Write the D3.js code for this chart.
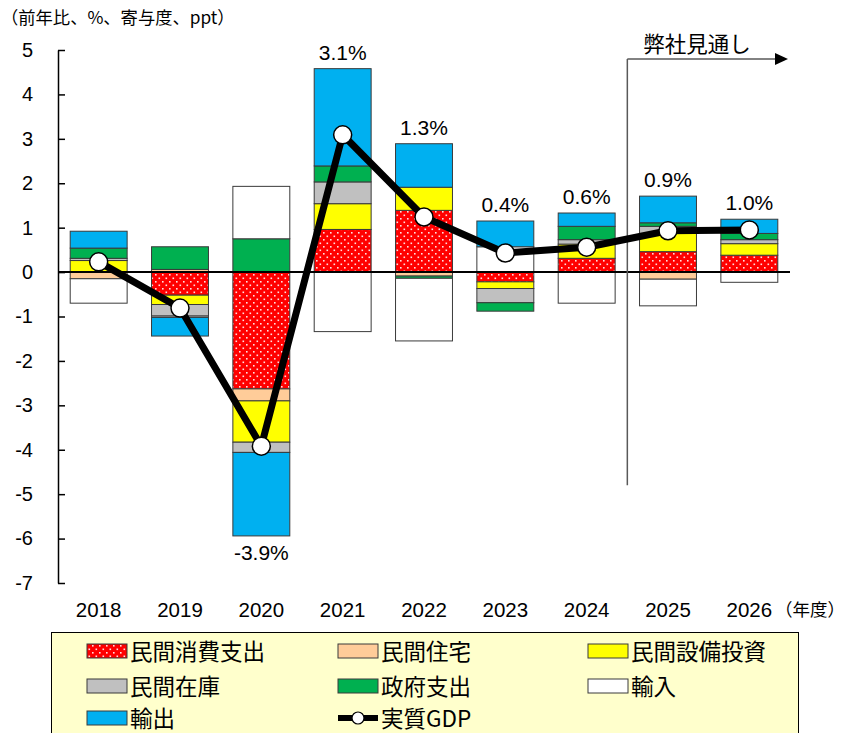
<!DOCTYPE html>
<html>
<head>
<meta charset="utf-8">
<script src="https://cdn.jsdelivr.net/npm/d3@7"></script>
<style>
  html, body { margin: 0; padding: 0; background: #fff; }
  svg { display: block; }
</style>
</head>
<body>
<svg id="chart" width="847" height="733"></svg>
<script>
// ---- data ----
const years = ["2018", "2019", "2020", "2021", "2022", "2023", "2024", "2025", "2026"];
const seriesKeys = ["consumption", "housing", "capex", "inventory", "government", "imports", "exports"];
const seriesNames = ["民間消費支出", "民間住宅", "民間設備投資", "民間在庫", "政府支出", "輸入", "輸出"];
const consumption = [0.00, -0.52, -2.63, 0.96, 1.39, -0.22, 0.31, 0.46, 0.38];
const housing     = [-0.15, 0.06, -0.27, 0.00, -0.09, 0.00, 0.00, -0.16, 0.00];
const capex       = [0.26, -0.21, -0.93, 0.58, 0.52, -0.15, 0.32, 0.41, 0.26];
const inventory   = [0.05, -0.26, -0.23, 0.49, 0.00, -0.32, 0.10, 0.16, 0.09];
const government  = [0.23, 0.51, 0.75, 0.36, -0.05, -0.19, 0.30, 0.08, 0.14];
const imports     = [-0.55, -0.03, 1.18, -1.34, -1.41, 0.57, -0.70, -0.60, -0.23];
const exports_    = [0.38, -0.42, -1.88, 2.19, 0.98, 0.58, 0.30, 0.60, 0.32];
const gdp         = [0.23, -0.81, -3.92, 3.09, 1.24, 0.43, 0.56, 0.93, 0.95];
const gdpLabels   = ["", "", "-3.9%", "3.1%", "1.3%", "0.4%", "0.6%", "0.9%", "1.0%"];
const yTicks = [-7, -6, -5, -4, -3, -2, -1, 0, 1, 2, 3, 4, 5];
const forecastStart = "2025";

const seriesValues = { consumption, housing, capex, inventory, government, imports, exports: exports_ };
const colors = {
  consumption: "url(#dots)", housing: "#ffcc99", capex: "#ffff00", inventory: "#c0c0c0",
  government: "#00b050", imports: "#ffffff", exports: "#00b0f0"
};

const table = years.map((y, i) => {
  const row = { year: y };
  seriesKeys.forEach(k => row[k] = seriesValues[k][i]);
  return row;
});

// ---- svg ----
const svg = d3.select("#chart");
const defs = svg.append("defs");
const pat = defs.append("pattern").attr("id", "dots").attr("patternUnits", "userSpaceOnUse")
  .attr("width", 7).attr("height", 7);
pat.append("rect").attr("width", 7).attr("height", 7).attr("fill", "#ff0000");
pat.append("rect").attr("x", 1).attr("y", 1).attr("width", 1.6).attr("height", 1.6).attr("fill", "#ffe0e0");
pat.append("rect").attr("x", 4.5).attr("y", 4.5).attr("width", 1.6).attr("height", 1.6).attr("fill", "#ffe0e0");

const x = d3.scaleBand().domain(years).range([58, 790]).paddingInner(0.3).paddingOuter(0.15);
const y = d3.scaleLinear().domain([-7, 5]).range([583, 50]);

const numFont = "'Liberation Sans', Arial, sans-serif";
const jpFont = "'Noto Sans CJK JP', 'Noto Sans', sans-serif";

// title
svg.append("text").attr("x", 1).attr("y", 24).attr("font-family", jpFont).attr("font-size", 17.3)
  .attr("fill", "#000").text("（前年比、%、寄与度、ppt）");

// stacked bars
const stack = d3.stack().keys(seriesKeys).order(d3.stackOrderNone).offset(d3.stackOffsetDiverging);
const stacked = stack(table);

const gBars = svg.append("g");
stacked.forEach(layer => {
  gBars.append("g").selectAll("rect").data(layer).join("rect")
    .attr("x", d => x(d.data.year))
    .attr("width", x.bandwidth())
    .attr("y", d => y(Math.max(d[0], d[1])))
    .attr("height", d => Math.abs(y(d[0]) - y(d[1])))
    .attr("fill", colors[layer.key])
    .attr("stroke", "#3a3a3a").attr("stroke-width", 1)
    .attr("display", d => Math.abs(d[1] - d[0]) < 1e-9 ? "none" : null);
});

// y axis
const yAxis = d3.axisLeft(y).tickValues(yTicks).tickSize(-7).tickSizeOuter(0).tickPadding(25)
  .tickFormat(d => String(d));
const gy = svg.append("g").attr("transform", "translate(58,0)").call(yAxis);
gy.select(".domain").attr("stroke", "#000").attr("stroke-width", 1.5);
gy.selectAll(".tick line").attr("stroke", "#000").attr("stroke-width", 1.5);
gy.selectAll(".tick text").attr("font-family", numFont).attr("font-size", 20).attr("fill", "#000");

// zero line
svg.append("line").attr("x1", 58).attr("x2", 790).attr("y1", y(0)).attr("y2", y(0))
  .attr("stroke", "#000").attr("stroke-width", 2);

// x labels
svg.append("g").selectAll("text").data(years).join("text")
  .attr("x", d => x(d) + x.bandwidth() / 2).attr("y", 617)
  .attr("text-anchor", "middle").attr("font-family", numFont).attr("font-size", 20.5)
  .text(d => d);
svg.append("text").attr("x", 845).attr("y", 616).attr("text-anchor", "end")
  .attr("font-family", jpFont).attr("font-size", 17.5).text("（年度）");

// forecast bracket
const fx = x(forecastStart) - x.step() * x.paddingInner() / 2;
svg.append("line").attr("x1", fx).attr("x2", fx).attr("y1", y(4.8)).attr("y2", y(-4.8))
  .attr("stroke", "#595959").attr("stroke-width", 1.5);
svg.append("line").attr("x1", fx).attr("x2", 776).attr("y1", y(4.8)).attr("y2", y(4.8))
  .attr("stroke", "#595959").attr("stroke-width", 1.5);
svg.append("path").attr("d", `M775,${y(4.8) - 6}L788,${y(4.8)}L775,${y(4.8) + 6}Z`).attr("fill", "#000");
svg.append("text").attr("x", fx + 16).attr("y", 52).attr("font-family", jpFont).attr("font-size", 21.5)
  .text("弊社見通し");

// GDP line
const cx = d => x(d) + x.bandwidth() / 2;
const line = d3.line().x((d, i) => cx(years[i])).y(d => y(d));
svg.append("path").datum(gdp).attr("d", line).attr("fill", "none")
  .attr("stroke", "#000").attr("stroke-width", 7).attr("stroke-linejoin", "round");
svg.append("g").selectAll("circle").data(gdp).join("circle")
  .attr("cx", (d, i) => cx(years[i])).attr("cy", d => y(d)).attr("r", 9)
  .attr("fill", "#fff").attr("stroke", "#000").attr("stroke-width", 1.5);

// GDP labels
const topOf = i => { const r = stacked.map(l => l[i]); return d3.max(r, d => Math.max(d[0], d[1])); };
const botOf = i => { const r = stacked.map(l => l[i]); return d3.min(r, d => Math.min(d[0], d[1])); };
svg.append("g").selectAll("text").data(gdpLabels).join("text")
  .attr("x", (d, i) => cx(years[i]))
  .attr("y", (d, i) => gdp[i] >= 0 ? y(topOf(i)) - 9 : y(botOf(i)) + 24)
  .attr("text-anchor", "middle").attr("font-family", numFont).attr("font-size", 21)
  .text(d => d);

// legend
const lg = svg.append("g");
lg.append("rect").attr("x", 51.5).attr("y", 632.5).attr("width", 747).attr("height", 110)
  .attr("fill", "#ffffcc").attr("stroke", "#000").attr("stroke-width", 1);
const legendItems = seriesKeys.map((k, i) => ({ key: k, name: seriesNames[i], type: "bar" }))
  .concat([{ key: "gdp", name: "実質GDP", type: "line" }]);
const colX = [87, 338, 588];
const rowY = [651, 686, 718];
legendItems.forEach((it, i) => {
  const cxl = colX[i % 3], cyl = rowY[Math.floor(i / 3)];
  if (it.type === "bar") {
    lg.append("rect").attr("x", cxl).attr("y", cyl - 7).attr("width", 40).attr("height", 14)
      .attr("fill", colors[it.key]).attr("stroke", "#3a3a3a").attr("stroke-width", 1);
  } else {
    lg.append("line").attr("x1", cxl).attr("x2", cxl + 40).attr("y1", cyl).attr("y2", cyl)
      .attr("stroke", "#000").attr("stroke-width", 6);
    lg.append("circle").attr("cx", cxl + 20).attr("cy", cyl).attr("r", 6)
      .attr("fill", "#fff").attr("stroke", "#000").attr("stroke-width", 1.2);
  }
  lg.append("text").attr("x", cxl + 43).attr("y", cyl + 8.5).attr("font-family", jpFont)
    .attr("font-size", 22.5).text(it.name);
});
</script>
</body>
</html>
